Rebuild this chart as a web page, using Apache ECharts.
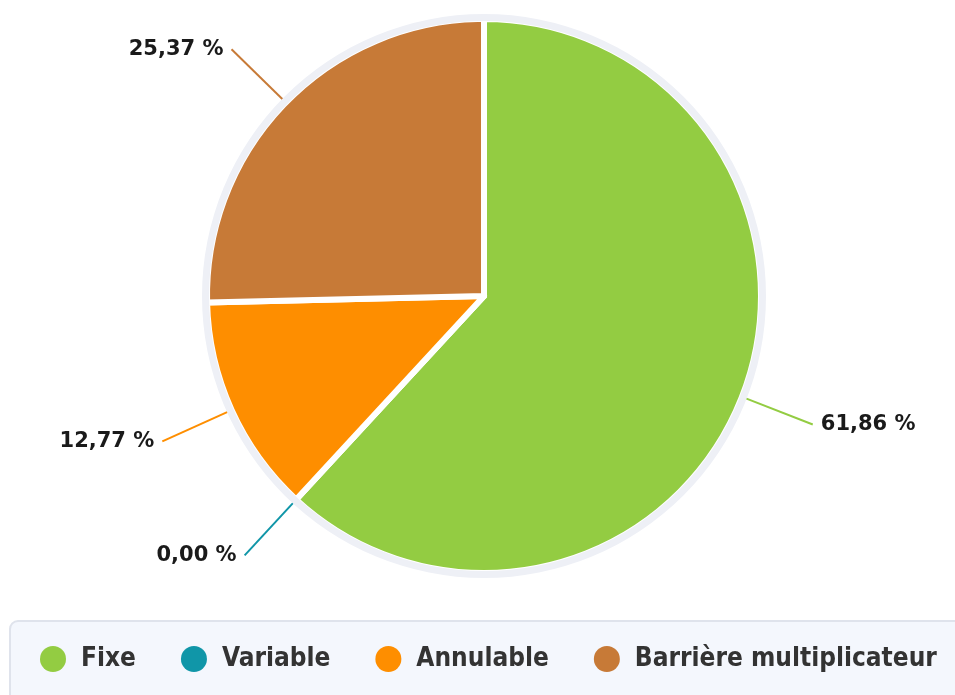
<!DOCTYPE html>
<html>
<head>
<meta charset="utf-8">
<script src="https://cdn.jsdelivr.net/npm/echarts@6/dist/echarts.min.js"></script>
<style>
  html, body { margin: 0; padding: 0; background: #fff; }
  #chart { width: 955px; height: 695px; }
</style>
</head>
<body>
<div id="chart"></div>
<script>
// donnees
const categories = ['Fixe', 'Variable', 'Annulable', 'Barrière multiplicateur'];
const values = [61.86, 0, 12.77, 25.37];
const colors = ['#93cc42', '#1096a8', '#fe8e00', '#c77a37'];

const chart = echarts.init(document.getElementById('chart'));

const pieData = categories.map((name, i) => ({
  name: name,
  value: values[i],
  itemStyle: { color: colors[i] },
  labelLine: { lineStyle: { color: colors[i] } }
}));

const option = {
  animation: false,
  graphic: [
    {
      type: 'rect',
      z: -10,
      shape: { x: 10, y: 621, width: 970, height: 100, r: 8 },
      style: { fill: '#f4f7fd', stroke: '#dfe3ec', lineWidth: 2 }
    }
  ],
  legend: {
    left: 35,
    top: 641,
    icon: 'circle',
    itemWidth: 26,
    itemHeight: 26,
    itemGap: 45,
    data: categories,
    itemStyle: { borderWidth: 0 },
    textStyle: {
      fontFamily: 'DejaVu Sans Condensed',
      fontWeight: 'bold',
      fontSize: 26,
      color: '#333',
      padding: [0, 0, 0, 10]
    }
  },
  series: [
    {
      type: 'pie',
      center: [484, 296],
      radius: [0, 277],
      startAngle: 90,
      clockwise: true,
      avoidLabelOverlap: false,
      itemStyle: { borderColor: '#fff', borderWidth: 6 },
      label: {
        show: true,
        position: 'outside',
        formatter: p => p.value.toFixed(2).replace('.', ',') + ' %',
        fontFamily: 'DejaVu Sans',
        fontWeight: 'bold',
        fontSize: 21,
        color: '#1a1a1a',
        distanceToLabelLine: 8
      },
      labelLine: { show: true, length: 76, length2: 0, lineStyle: { width: 2 } },
      emphasis: { disabled: true },
      data: pieData
    },
    {
      type: 'pie',
      center: [484, 296],
      radius: [275, 282],
      silent: true,
      z: 5,
      label: { show: false },
      labelLine: { show: false },
      itemStyle: { color: '#eef0f6' },
      emphasis: { disabled: true },
      data: [{ name: 'anneau', value: 1 }]
    }
  ]
};

chart.setOption(option);
</script>
</body>
</html>
